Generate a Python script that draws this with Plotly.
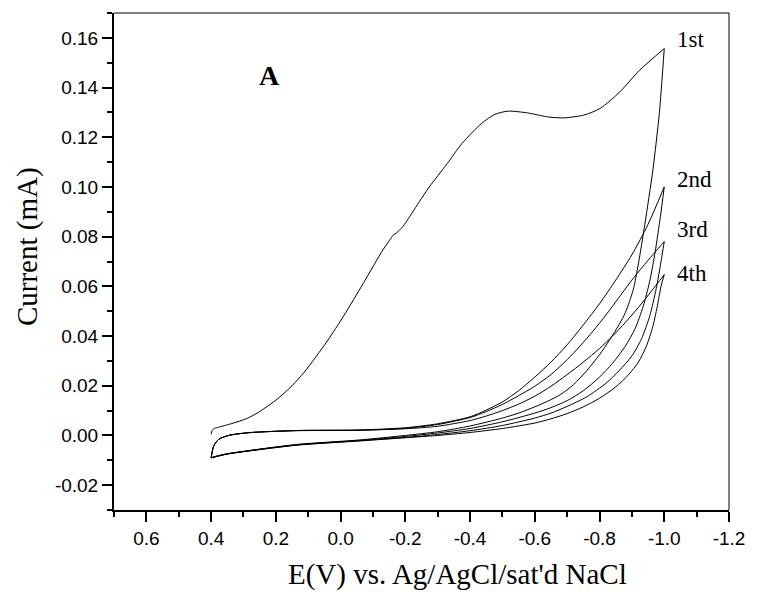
import plotly.graph_objects as go

# ---- data (E in V, current in mA) ----
E_1st_fwd = [0.400, 0.397, 0.392, 0.380, 0.336, 0.290, 0.255, 0.194, 0.150, 0.112, 0.041, -0.010,
             -0.070, -0.131, -0.155, -0.162, -0.172, -0.192, -0.243, -0.274, -0.330, -0.375, -0.436,
             -0.477, -0.517, -0.578, -0.639, -0.690, -0.751, -0.802, -0.863, -0.924, -1.000]
I_1st_fwd = [0.0005, 0.0020, 0.0027, 0.0032, 0.0048, 0.0068, 0.0092, 0.0148, 0.0200, 0.0255, 0.0380,
             0.0482, 0.0612, 0.0747, 0.0792, 0.0806, 0.0814, 0.0840, 0.0940, 0.1000, 0.1095, 0.1175,
             0.1256, 0.1292, 0.1305, 0.1298, 0.1282, 0.1278, 0.1289, 0.1316, 0.1383, 0.1470, 0.1557]

E_1st_rev = [-1.000, -0.985, -0.965, -0.940, -0.920, -0.904, -0.880, -0.860, -0.832, -0.800, -0.760,
             -0.720, -0.680, -0.640, -0.600, -0.550, -0.500, -0.400, -0.300, -0.200, -0.060, 0.133,
             0.285, 0.350, 0.380, 0.400]
I_1st_rev = [0.1557, 0.1300, 0.1070, 0.0850, 0.0690, 0.0586, 0.0495, 0.0445, 0.0386, 0.0325, 0.0260,
             0.0205, 0.0165, 0.0138, 0.0115, 0.0090, 0.0070, 0.0038, 0.0015, 0.0000, -0.0018, -0.0036,
             -0.0061, -0.0074, -0.0082, -0.0090]

E_2nd_fwd = [0.400, 0.392, 0.377, 0.346, 0.285, 0.133, -0.060, -0.200, -0.300, -0.400, -0.450, -0.500,
             -0.550, -0.600, -0.650, -0.700, -0.750, -0.800, -0.850, -0.900, -0.950, -1.000]
I_2nd_fwd = [-0.0090, -0.0043, -0.0016, 0.0000, 0.0011, 0.0020, 0.0022, 0.0031, 0.0047, 0.0075, 0.0102,
             0.0135, 0.0180, 0.0235, 0.0295, 0.0365, 0.0445, 0.0530, 0.0625, 0.0727, 0.0850, 0.1000]

E_2nd_rev = [-1.000, -0.988, -0.972, -0.955, -0.935, -0.910, -0.880, -0.840, -0.800, -0.750, -0.700,
             -0.650, -0.600, -0.500, -0.400, -0.300, -0.200, -0.060, 0.133, 0.285, 0.350, 0.380, 0.400]
I_2nd_rev = [0.1000, 0.0880, 0.0740, 0.0620, 0.0520, 0.0430, 0.0360, 0.0290, 0.0235, 0.0180, 0.0140,
             0.0112, 0.0090, 0.0055, 0.0028, 0.0010, -0.0004, -0.0020, -0.0037, -0.0062, -0.0074,
             -0.0083, -0.0090]

E_3rd_fwd = [0.400, 0.392, 0.377, 0.346, 0.285, 0.133, -0.060, -0.200, -0.300, -0.400, -0.450, -0.500,
             -0.550, -0.600, -0.650, -0.700, -0.740, -0.780, -0.820, -0.860, -0.904, -0.950, -1.000]
I_3rd_fwd = [-0.0090, -0.0043, -0.0016, 0.0000, 0.0011, 0.0020, 0.0021, 0.0029, 0.0044, 0.0072, 0.0096,
             0.0125, 0.0160, 0.0198, 0.0245, 0.0305, 0.0360, 0.0420, 0.0485, 0.0555, 0.0632, 0.0705,
             0.0780]

E_3rd_rev = [-1.000, -0.990, -0.975, -0.955, -0.930, -0.900, -0.860, -0.820, -0.760, -0.700, -0.650,
             -0.600, -0.500, -0.400, -0.300, -0.200, -0.060, 0.133, 0.285, 0.350, 0.380, 0.400]
I_3rd_rev = [0.0780, 0.0700, 0.0590, 0.0480, 0.0390, 0.0320, 0.0260, 0.0210, 0.0155, 0.0117, 0.0090,
             0.0070, 0.0040, 0.0019, 0.0004, -0.0008, -0.0021, -0.0038, -0.0062, -0.0074, -0.0083,
             -0.0090]

E_4th_fwd = [0.400, 0.392, 0.377, 0.346, 0.285, 0.133, -0.060, -0.200, -0.300, -0.400, -0.450, -0.500,
             -0.550, -0.600, -0.650, -0.700, -0.750, -0.800, -0.840, -0.880, -0.920, -0.960, -1.000]
I_4th_fwd = [-0.0090, -0.0043, -0.0016, 0.0000, 0.0011, 0.0019, 0.0021, 0.0027, 0.0037, 0.0060, 0.0078,
             0.0100, 0.0126, 0.0158, 0.0198, 0.0245, 0.0295, 0.0350, 0.0400, 0.0455, 0.0515, 0.0580,
             0.0647]

E_4th_rev = [-1.000, -0.990, -0.980, -0.965, -0.945, -0.920, -0.890, -0.850, -0.800, -0.750, -0.700,
             -0.650, -0.600, -0.500, -0.400, -0.300, -0.170, -0.060, 0.133, 0.285, 0.350, 0.380, 0.400]
I_4th_rev = [0.0647, 0.0600, 0.0530, 0.0440, 0.0360, 0.0295, 0.0245, 0.0195, 0.0150, 0.0115, 0.0088,
             0.0067, 0.0050, 0.0028, 0.0012, 0.0000, -0.0012, -0.0022, -0.0039, -0.0063, -0.0075,
             -0.0084, -0.0090]

segments = [
    (E_1st_fwd, I_1st_fwd), (E_1st_rev, I_1st_rev),
    (E_2nd_fwd, I_2nd_fwd), (E_2nd_rev, I_2nd_rev),
    (E_3rd_fwd, I_3rd_fwd), (E_3rd_rev, I_3rd_rev),
    (E_4th_fwd, I_4th_fwd), (E_4th_rev, I_4th_rev),
]

cycle_labels = ["1st", "2nd", "3rd", "4th"]
label_E = [-1.033, -1.033, -1.033, -1.033]
label_I = [0.1595, 0.1028, 0.0827, 0.0653]

x_tickvals = [0.6, 0.4, 0.2, 0.0, -0.2, -0.4, -0.6, -0.8, -1.0, -1.2]
x_ticktext = ["0.6", "0.4", "0.2", "0.0", "-0.2", "-0.4", "-0.6", "-0.8", "-1.0", "-1.2"]
y_tickvals = [-0.02, 0.00, 0.02, 0.04, 0.06, 0.08, 0.10, 0.12, 0.14, 0.16]
y_ticktext = ["-0.02", "0.00", "0.02", "0.04", "0.06", "0.08", "0.10", "0.12", "0.14", "0.16"]

fig = go.Figure()
for e, i in segments:
    fig.add_trace(go.Scatter(x=e, y=i, mode="lines",
                             line=dict(color="black", width=1, shape="spline", smoothing=0.7),
                             showlegend=False, hoverinfo="skip"))

serif = "Times New Roman, Liberation Serif, serif"
sans = "Arial, Liberation Sans, sans-serif"

annotations = []
for t, xe, yi in zip(cycle_labels, label_E, label_I):
    annotations.append(dict(x=xe, y=yi, xref="x", yref="y", text=t, showarrow=False,
                            xanchor="left", yanchor="middle",
                            font=dict(family=serif, size=23, color="black")))
annotations.append(dict(x=0.221, y=0.1448, xref="x", yref="y", text="<b>A</b>", showarrow=False,
                        xanchor="center", yanchor="middle",
                        font=dict(family=serif, size=28, color="black")))
annotations.append(dict(x=-0.1415, y=0.531, xref="paper", yref="paper", text="Current (mA)",
                        textangle=-90, showarrow=False, xanchor="center", yanchor="middle",
                        font=dict(family=serif, size=29, color="black")))
annotations.append(dict(x=0.558, y=-0.129, xref="paper", yref="paper",
                        text="E(V) vs. Ag/AgCl/sat'd NaCl", showarrow=False,
                        xanchor="center", yanchor="middle",
                        font=dict(family=serif, size=29, color="black")))

fig.update_layout(
    width=757, height=592,
    margin=dict(l=114, r=21, t=13, b=82),
    paper_bgcolor="white", plot_bgcolor="white",
    annotations=annotations,
    shapes=[
        dict(type="line", xref="paper", yref="paper", x0=0, x1=1, y0=1, y1=1,
             line=dict(color="black", width=1)),
        dict(type="line", xref="paper", yref="paper", x0=1, x1=1, y0=0, y1=1,
             line=dict(color="black", width=1)),
    ],
)
fig.update_xaxes(range=[0.7, -1.2], showgrid=False, zeroline=False,
                 showline=True, linecolor="black", linewidth=2,
                 ticks="outside", ticklen=10, tickwidth=1.5, tickcolor="black",
                 tickmode="array", tickvals=x_tickvals, ticktext=x_ticktext,
                 tickfont=dict(family=sans, size=19, color="black"),
                 minor=dict(ticks="outside", ticklen=5, tickwidth=1.5, tickcolor="black",
                            tickmode="linear", tick0=0, dtick=0.1))
fig.update_yaxes(range=[-0.03, 0.17], showgrid=False, zeroline=False,
                 showline=True, linecolor="black", linewidth=2,
                 ticks="outside", ticklen=10, tickwidth=1.5, tickcolor="black",
                 tickmode="array", tickvals=y_tickvals, ticktext=y_ticktext,
                 tickfont=dict(family=sans, size=19, color="black"),
                 minor=dict(ticks="outside", ticklen=5, tickwidth=1.5, tickcolor="black",
                            tickmode="linear", tick0=0, dtick=0.01))

fig.write_html("out.html")
